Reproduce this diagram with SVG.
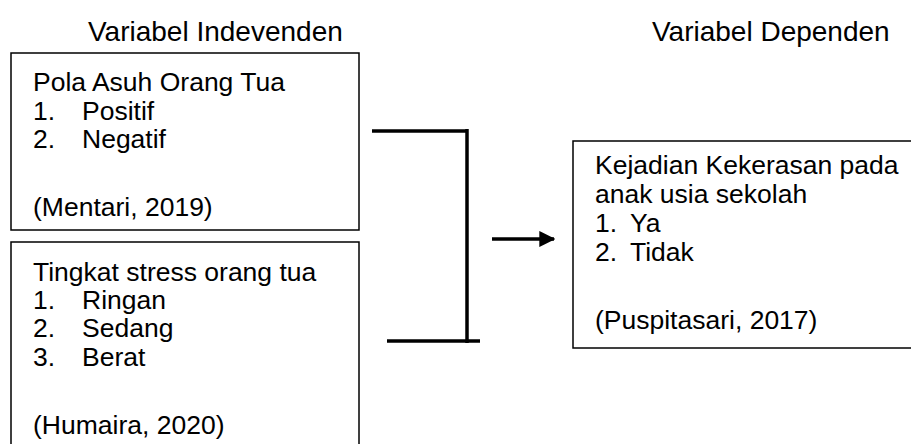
<svg xmlns="http://www.w3.org/2000/svg" width="911" height="444" viewBox="0 0 911 444">
<style>
text{font-family:"Liberation Sans",Arial,sans-serif;fill:#000}
.t{font-size:28px}
.b{font-size:26.5px}
.box{fill:#fff;stroke:#000;stroke-width:1.5}
.c{stroke:#000;stroke-width:3.5;fill:none}
</style>
<defs>
<marker id="ah" markerWidth="4.6" markerHeight="4.6" refX="4.2" refY="2.3" orient="auto" markerUnits="strokeWidth">
<path d="M0,0 L4.6,2.3 L0,4.6 Z" fill="#000"/>
</marker>
</defs>
<rect width="911" height="444" fill="#fff"/>
<g id="titles">
<text class="t" x="88" y="41">Variabel Indevenden</text>
<text class="t" x="652" y="41">Variabel Dependen</text>
</g>
<g id="node-pola">
<rect class="box" x="11" y="53" width="348" height="177"/>
<text class="b" x="33" y="91">Pola Asuh Orang Tua</text>
<text class="b" x="33" y="120">1.</text><text class="b" x="82" y="120">Positif</text>
<text class="b" x="33" y="148">2.</text><text class="b" x="82" y="148">Negatif</text>
<text class="b" x="33" y="216">(Mentari, 2019)</text>
</g>
<g id="node-stress">
<rect class="box" x="11" y="242" width="348" height="220"/>
<text class="b" x="33" y="281">Tingkat stress orang tua</text>
<text class="b" x="33" y="309">1.</text><text class="b" x="82" y="309">Ringan</text>
<text class="b" x="33" y="337">2.</text><text class="b" x="82" y="337">Sedang</text>
<text class="b" x="33" y="366">3.</text><text class="b" x="82" y="366">Berat</text>
<text class="b" x="33" y="434">(Humaira, 2020)</text>
</g>
<g id="node-kekerasan">
<rect class="box" x="573" y="141" width="350" height="207"/>
<text class="b" x="595" y="174">Kejadian Kekerasan pada</text>
<text class="b" x="595" y="203">anak usia sekolah</text>
<text class="b" x="595" y="232">1.</text><text class="b" x="630" y="232">Ya</text>
<text class="b" x="595" y="261">2.</text><text class="b" x="630" y="261">Tidak</text>
<text class="b" x="595" y="329">(Puspitasari, 2017)</text>
</g>
<g id="connectors">
<line class="c" x1="492" y1="239" x2="554" y2="239" marker-end="url(#ah)"/>
<line class="c" x1="372" y1="131" x2="468" y2="131"/>
<line class="c" x1="467" y1="129" x2="467" y2="343"/>
<line class="c" x1="387" y1="341" x2="480" y2="341"/>
</g>
</svg>
